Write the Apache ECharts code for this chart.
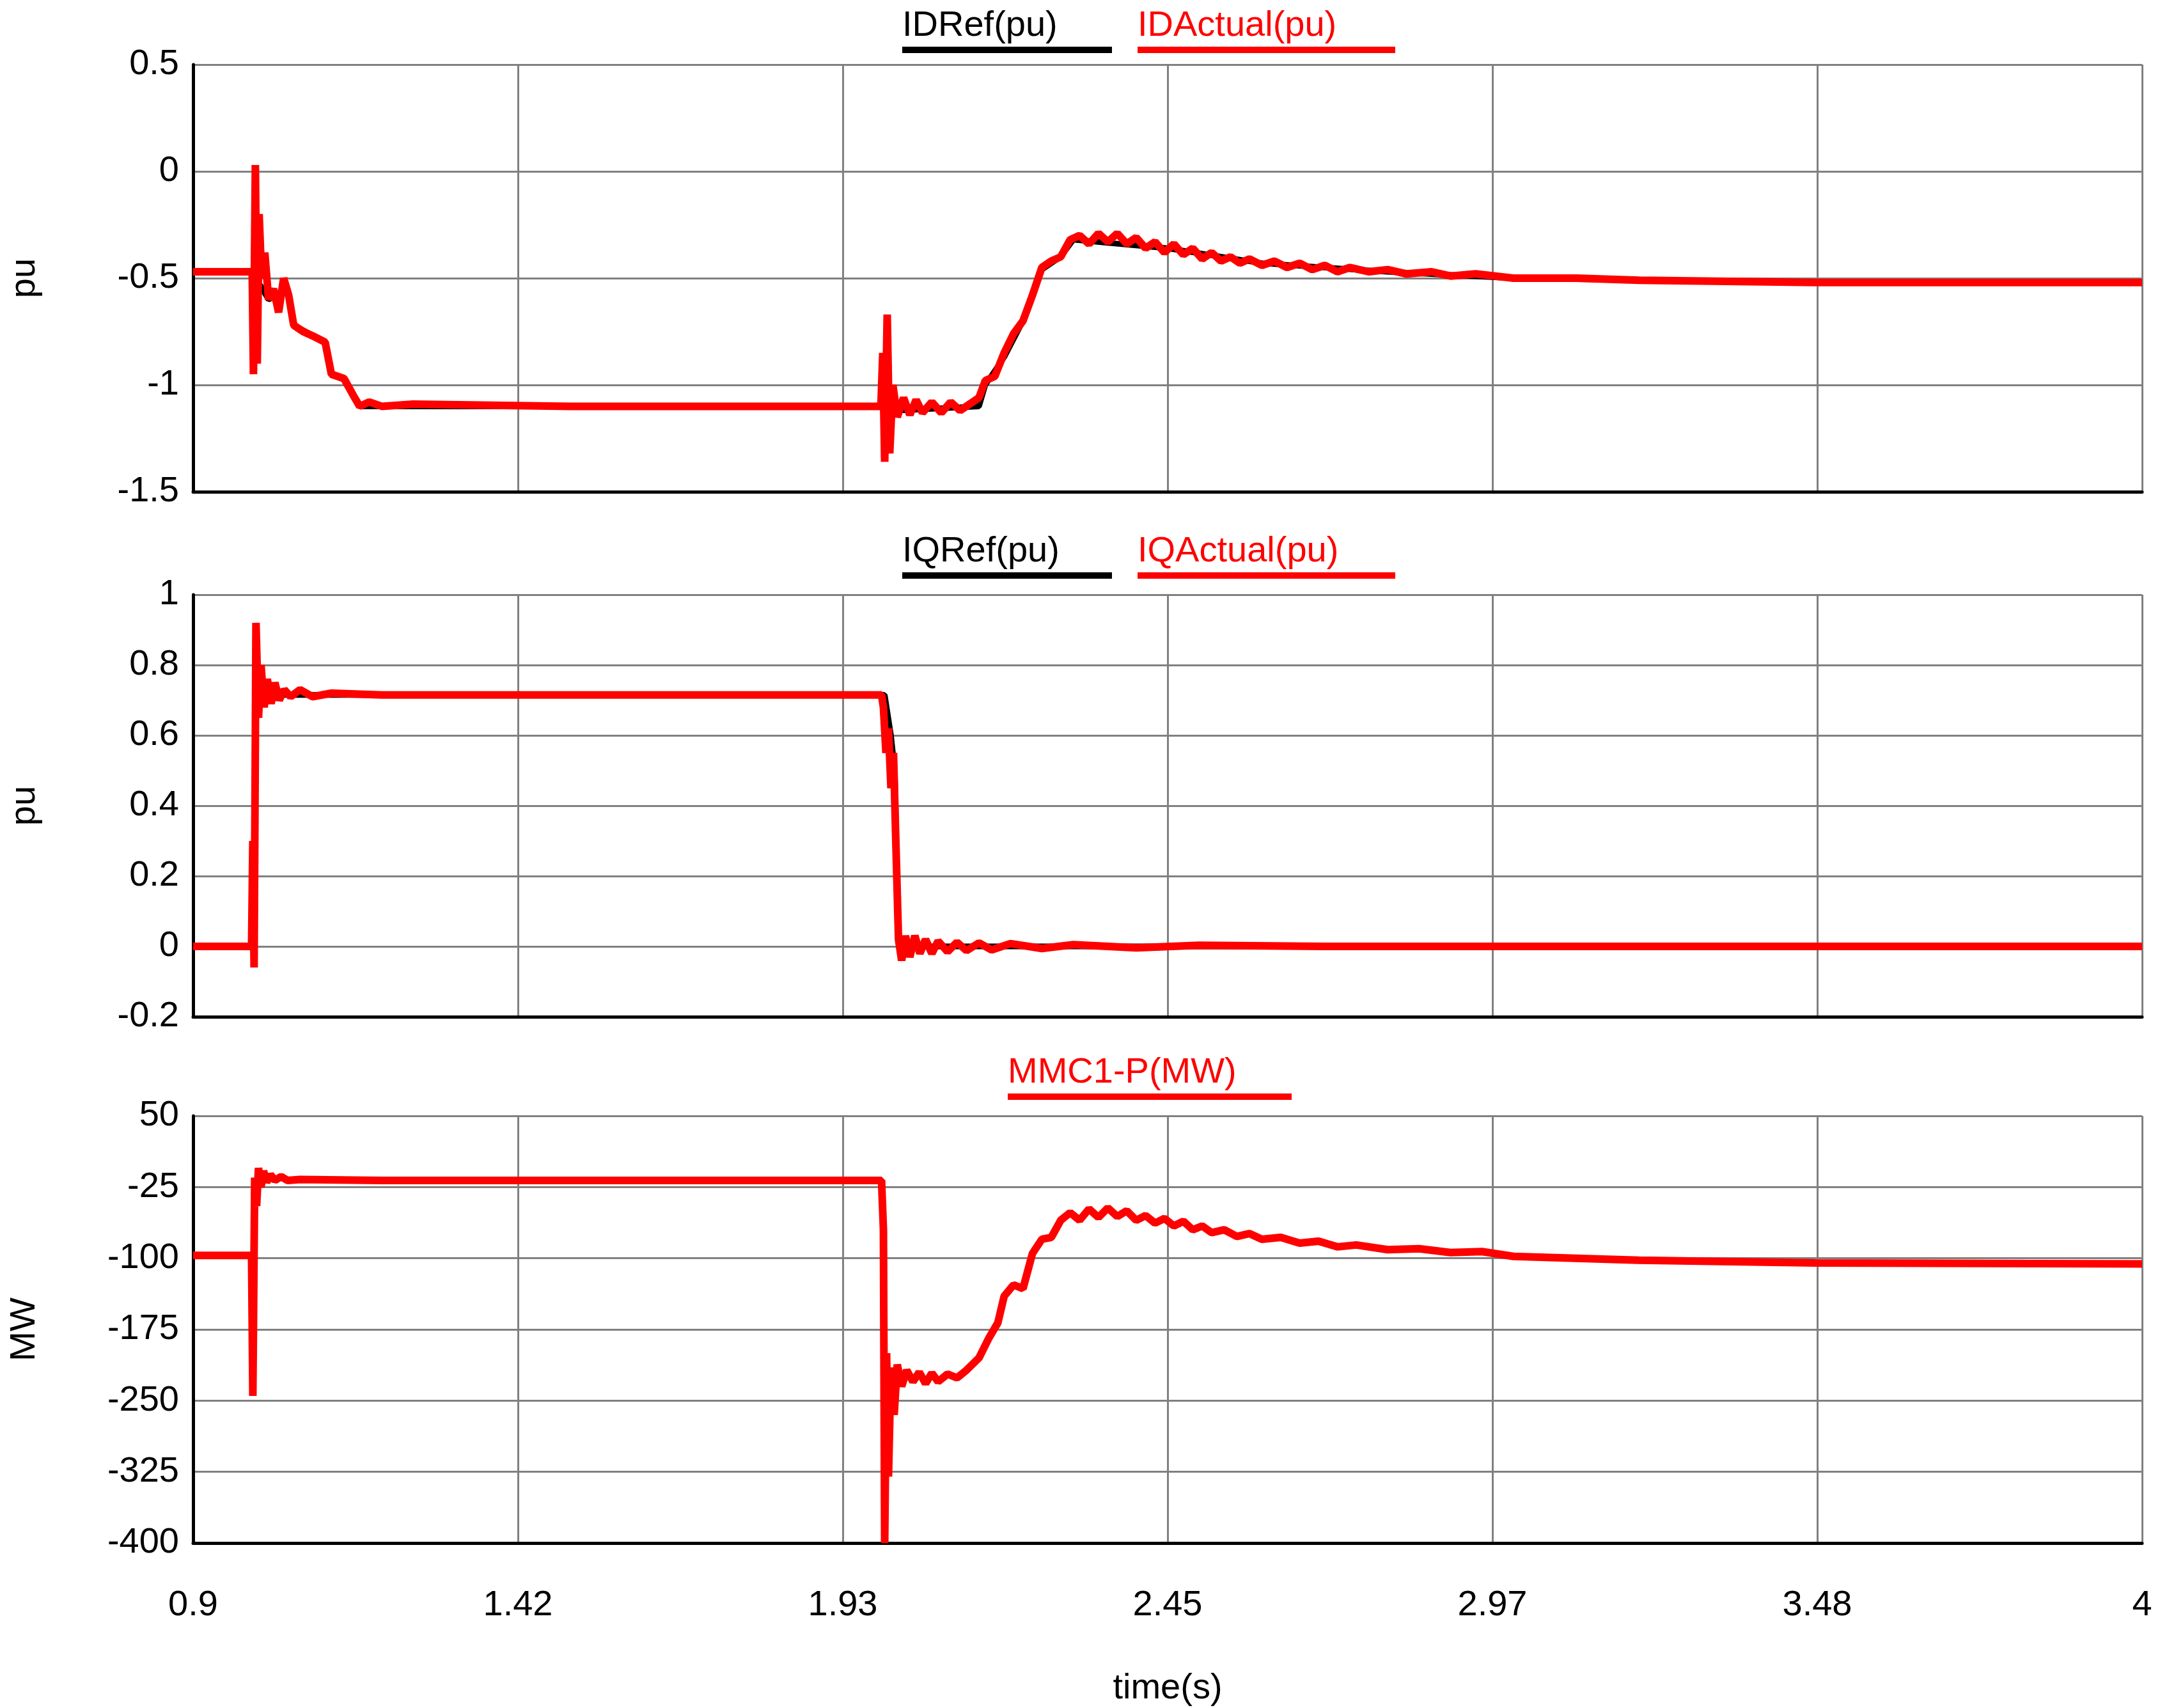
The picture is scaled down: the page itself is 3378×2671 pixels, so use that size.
<!DOCTYPE html>
<html><head><meta charset="utf-8">
<script src="https://cdn.jsdelivr.net/npm/echarts@6/dist/echarts.min.js"></script>
<style>html,body{margin:0;background:#fff}#c{width:3378px;height:2671px}</style>
</head><body><div id="c"></div>
<script>
const xLabels = ["0.9", "1.42", "1.93", "2.45", "2.97", "3.48", "4"];
const pLabels = ["-400", "-325", "-250", "-175", "-100", "-25", "50"];

// [time(s), value]
const idRef = [[0.9,-0.47],[0.995,-0.47],[1.0,-0.5],[1.02,-0.6],[1.05,-0.56],[1.06,-0.72],[1.11,-0.8],[1.12,-0.95],[1.14,-0.97],[1.155,-1.05],[1.165,-1.1],[2.0,-1.1],[2.02,-1.12],[2.15,-1.1],[2.16,-1.0],[2.19,-0.87],[2.22,-0.7],[2.25,-0.46],[2.28,-0.4],[2.3,-0.32],[2.45,-0.36],[2.6,-0.43],[2.8,-0.47],[3.0,-0.5],[3.48,-0.52],[4,-0.52]];
const idAct = [[0.9,-0.47],[0.994,-0.47],[0.996,-0.95],[0.999,0.03],[1.002,-0.9],[1.005,-0.2],[1.009,-0.5],[1.014,-0.38],[1.02,-0.6],[1.028,-0.55],[1.036,-0.66],[1.044,-0.5],[1.052,-0.58],[1.06,-0.72],[1.075,-0.75],[1.09,-0.77],[1.11,-0.8],[1.12,-0.95],[1.14,-0.97],[1.155,-1.05],[1.165,-1.1],[1.18,-1.08],[1.2,-1.1],[1.25,-1.09],[1.5,-1.1],[1.8,-1.1],[1.994,-1.1],[1.997,-0.85],[2.0,-1.36],[2.004,-0.67],[2.008,-1.32],[2.013,-1.0],[2.02,-1.15],[2.03,-1.06],[2.04,-1.14],[2.05,-1.07],[2.06,-1.13],[2.075,-1.08],[2.09,-1.13],[2.105,-1.08],[2.12,-1.12],[2.135,-1.09],[2.15,-1.06],[2.16,-0.98],[2.175,-0.96],[2.19,-0.85],[2.205,-0.76],[2.22,-0.7],[2.235,-0.58],[2.25,-0.45],[2.265,-0.42],[2.28,-0.4],[2.295,-0.32],[2.31,-0.3],[2.325,-0.34],[2.34,-0.29],[2.355,-0.33],[2.37,-0.29],[2.385,-0.34],[2.4,-0.31],[2.415,-0.36],[2.43,-0.33],[2.445,-0.38],[2.46,-0.34],[2.475,-0.39],[2.49,-0.36],[2.505,-0.41],[2.52,-0.38],[2.535,-0.42],[2.55,-0.4],[2.565,-0.43],[2.58,-0.41],[2.6,-0.44],[2.62,-0.42],[2.64,-0.45],[2.66,-0.43],[2.68,-0.46],[2.7,-0.44],[2.72,-0.47],[2.74,-0.45],[2.77,-0.47],[2.8,-0.46],[2.83,-0.48],[2.87,-0.47],[2.9,-0.49],[2.94,-0.48],[3.0,-0.5],[3.1,-0.5],[3.2,-0.51],[3.48,-0.52],[4,-0.52]];
const iqRef = [[0.9,0],[0.995,0],[1.0,0.72],[1.05,0.715],[2.0,0.715],[2.01,0.6],[2.016,0.5],[2.022,0.02],[2.04,0],[4,0]];
const iqAct = [[0.9,0],[0.993,0],[0.995,0.3],[0.997,-0.06],[1.0,0.92],[1.004,0.65],[1.008,0.8],[1.013,0.68],[1.018,0.76],[1.024,0.69],[1.03,0.75],[1.037,0.7],[1.045,0.73],[1.055,0.71],[1.07,0.73],[1.09,0.71],[1.12,0.72],[1.2,0.715],[1.6,0.715],[1.995,0.715],[1.998,0.68],[2.002,0.55],[2.006,0.62],[2.01,0.45],[2.014,0.55],[2.018,0.28],[2.022,0.02],[2.027,-0.04],[2.033,0.03],[2.04,-0.03],[2.048,0.03],[2.056,-0.02],[2.065,0.02],[2.075,-0.02],[2.085,0.015],[2.1,-0.015],[2.115,0.012],[2.13,-0.012],[2.15,0.01],[2.17,-0.01],[2.2,0.008],[2.25,-0.006],[2.3,0.005],[2.4,-0.004],[2.5,0.003],[2.7,0],[4,0]];
const pAct = [[0.9,-97],[0.993,-97],[0.995,-245],[0.998,-15],[1.001,-45],[1.004,-5],[1.008,-25],[1.012,-8],[1.017,-20],[1.023,-12],[1.03,-18],[1.04,-14],[1.05,-18],[1.07,-17],[1.2,-18],[1.6,-18],[1.995,-18],[1.998,-70],[2.0,-400],[2.003,-200],[2.006,-330],[2.01,-215],[2.015,-265],[2.02,-212],[2.027,-235],[2.035,-218],[2.045,-230],[2.055,-220],[2.065,-232],[2.075,-221],[2.085,-230],[2.1,-222],[2.115,-226],[2.13,-218],[2.15,-205],[2.165,-185],[2.18,-168],[2.19,-140],[2.205,-128],[2.22,-132],[2.235,-95],[2.25,-80],[2.265,-78],[2.28,-60],[2.295,-52],[2.31,-60],[2.325,-48],[2.34,-57],[2.355,-47],[2.37,-56],[2.385,-50],[2.4,-60],[2.415,-55],[2.43,-63],[2.445,-58],[2.46,-66],[2.475,-61],[2.49,-70],[2.505,-66],[2.52,-73],[2.54,-70],[2.56,-77],[2.58,-74],[2.6,-80],[2.63,-78],[2.66,-84],[2.69,-82],[2.72,-88],[2.75,-86],[2.8,-91],[2.85,-90],[2.9,-94],[2.95,-93],[3.0,-98],[3.1,-100],[3.2,-102],[3.48,-105],[4,-106]];

const step = 3.1 / 6;
const tx = d => [(d[0] - 0.9) / step, d[1]];
const tp = d => [(d[0] - 0.9) / step, (d[1] + 400) / 75];

const chart = echarts.init(document.getElementById("c"));
const font = "Liberation Sans";
const tops = [101, 930, 1745];
const bottoms = [1902, 1081, 258];
const grids = tops.map((t, i) => ({ left: 302, right: 28, top: t, bottom: bottoms[i] }));
const xAxes = [0, 1, 2].map(i => ({
  gridIndex: i, type: "value", min: 0, max: 6, interval: 1,
  axisLine: { show: true, onZero: false, lineStyle: { color: "#000", width: 5 } },
  axisTick: { show: false },
  splitLine: { show: true, lineStyle: { color: "#808080", width: 3 } },
  axisLabel: { show: i === 2, fontSize: 56, fontFamily: font, color: "#000", margin: 70,
    formatter: v => xLabels[Math.round(v)] },
  name: i === 2 ? "time(s)" : "", nameLocation: "middle", nameGap: 200,
  nameTextStyle: { fontSize: 56, fontFamily: font, color: "#000" }
}));
const yBase = {
  type: "value", nameLocation: "middle", nameGap: 235,
  nameTextStyle: { fontSize: 56, fontFamily: font, color: "#000" },
  axisLine: { show: true, lineStyle: { color: "#000", width: 5 } },
  axisTick: { show: false },
  splitLine: { show: true, lineStyle: { color: "#808080", width: 3 } },
  axisLabel: { fontSize: 56, fontFamily: font, color: "#000", margin: 22 }
};
const yAxes = [
  Object.assign({}, yBase, { gridIndex: 0, min: -1.5, max: 0.5, interval: 0.5, name: "pu" }),
  Object.assign({}, yBase, { gridIndex: 1, min: -0.2, max: 1, interval: 0.2, name: "pu",
    axisLabel: Object.assign({}, yBase.axisLabel, { formatter: v => +v.toFixed(1) }) }),
  Object.assign({}, yBase, { gridIndex: 2, min: 0, max: 6, interval: 1, name: "MW",
    axisLabel: Object.assign({}, yBase.axisLabel, { formatter: v => pLabels[Math.round(v)] }) })
];
const line = (i, data, color, w) => ({
  type: "line", xAxisIndex: i, yAxisIndex: i, data, showSymbol: false, animation: false,
  lineStyle: { color, width: w }
});

const legendItem = (text, color, x, y, w) => [
  { type: "text", left: x, top: y, style: { text, fill: color, font: "56px " + font } },
  { type: "rect", left: x, top: y + 60, shape: { width: w, height: 10 }, style: { fill: color } }
];

chart.setOption({
  backgroundColor: "#fff",
  grid: grids, xAxis: xAxes, yAxis: yAxes,
  series: [
    line(0, idRef.map(tx), "#000", 9), line(0, idAct.map(tx), "#ff0000", 12),
    line(1, iqRef.map(tx), "#000", 9), line(1, iqAct.map(tx), "#ff0000", 12),
    line(2, pAct.map(tp), "#ff0000", 12)
  ],
  graphic: [
    ...legendItem("IDRef(pu)", "#000", 1411, 13, 328),
    ...legendItem("IDActual(pu)", "#ff0000", 1779, 13, 403),
    ...legendItem("IQRef(pu)", "#000", 1411, 835, 328),
    ...legendItem("IQActual(pu)", "#ff0000", 1779, 835, 403),
    ...legendItem("MMC1-P(MW)", "#ff0000", 1576, 1650, 444)
  ]
});
</script></body></html>
